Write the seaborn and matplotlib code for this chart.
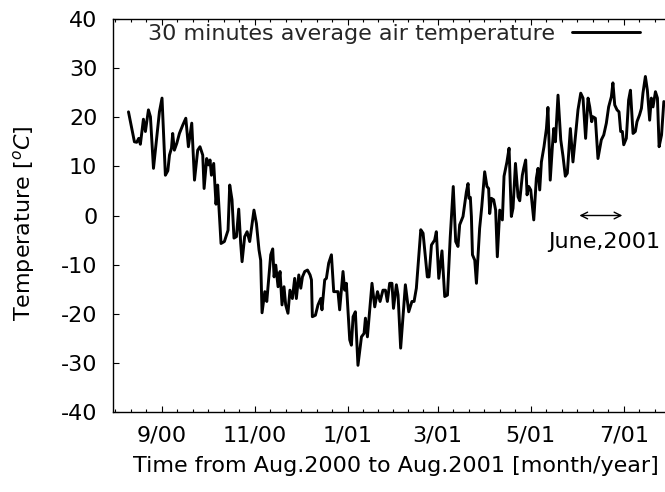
import numpy as np
import pandas as pd
import matplotlib
matplotlib.use("Agg")
import matplotlib.pyplot as plt
import matplotlib.dates as mdates
import seaborn as sns

# ---------------- data ----------------
start_date = "2000-08-01"
day_offsets = [9.2,13.1,14.6,15.9,17.0,19.0,20.3,22.3,23.6,25.6,
27.9,29.5,31.2,33.4,35.0,36.1,37.4,38.2,39.3,40.9,
42.6,44.8,46.8,48.5,50.7,52.5,54.6,56.1,57.9,58.8,
60.5,61.6,62.7,63.6,65.1,66.6,67.7,68.4,69.9,72.1,
74.5,75.6,77.1,78.4,80.0,81.5,82.8,83.7,85.4,87.0,
88.7,91.5,93.1,94.8,95.9,96.8,98.6,99.9,102.5,103.8,
104.7,105.8,107.3,108.6,109.9,111.2,112.3,113.8,115.1,116.7,
118.2,119.3,120.9,122.2,123.3,124.8,126.6,128.3,129.2,129.8,
131.8,133.5,135.3,136.1,137.9,139.0,140.5,142.3,143.8,145.1,
146.6,147.7,149.9,151.0,152.1,154.3,155.4,156.5,158.0,159.7,
162.0,163.7,164.6,165.9,168.9,170.7,172.5,174.2,176.1,177.7,
179.0,180.5,182.0,183.0,184.9,186.0,187.7,190.8,193.0,195.1,
196.5,198.0,200.9,202.4,205.2,206.3,207.9,210.0,211.1,212.7,
214.8,216.6,218.4,220.2,222.2,223.8,225.3,226.4,228.6,230.8,
231.9,232.5,233.4,234.1,234.8,236.3,237.4,239.5,240.9,242.8,
244.3,245.4,246.1,247.2,248.7,250.0,251.1,252.7,254.4,255.5,
257.4,258.8,260.3,261.4,263.0,264.7,265.8,267.5,268.4,269.7,
270.6,271.7,273.0,275.0,276.7,277.8,278.9,280.0,281.7,283.3,
284.3,285.8,287.2,288.1,289.2,290.9,292.7,294.2,295.7,297.0,
299.0,300.7,302.9,304.0,305.8,307.3,309.0,310.6,311.7,313.0,
313.8,315.4,317.1,319.3,320.9,322.6,324.1,325.9,326.9,328.1,
329.6,330.9,332.0,333.1,334.0,335.7,337.2,338.4,340.1,341.6,
342.7,344.4,345.6,346.6,348.2,349.5,351.0,352.1,353.2,354.8,
356.1,357.2,358.8,360.3]
temperatures = [21.1,15.0,14.9,15.7,14.5,19.6,17.1,21.5,20.1,9.6,
16.4,21.1,23.9,8.2,9.1,12.3,13.7,16.7,13.3,14.7,
16.7,18.4,19.8,14.0,18.8,7.2,13.3,14.0,12.3,5.5,
11.6,10.3,11.3,8.2,10.6,2.3,6.2,2.5,-5.7,-5.3,
-3.0,6.2,3.2,-4.6,-4.3,1.3,-5.7,-9.4,-4.3,-3.3,
-5.3,1.1,-1.6,-7.0,-9.1,-19.8,-15.5,-17.5,-8.0,-6.8,
-12.5,-10.1,-14.5,-11.4,-18.2,-14.5,-18.2,-19.9,-15.2,-16.9,
-12.8,-16.9,-12.1,-14.8,-12.5,-11.4,-11.1,-12.1,-13.1,-20.6,
-20.3,-18.2,-16.9,-19.2,-13.1,-12.8,-9.7,-8.0,-15.5,-15.5,
-15.5,-19.2,-11.4,-15.2,-13.8,-25.3,-26.4,-20.6,-19.6,-30.5,
-24.7,-24.0,-20.9,-24.7,-13.8,-18.6,-15.5,-17.5,-15.2,-15.2,
-17.5,-13.8,-13.8,-18.9,-14.1,-16.2,-27.0,-14.1,-19.6,-17.5,
-17.5,-14.8,-2.9,-3.6,-12.5,-12.5,-6.0,-5.0,-3.3,-12.8,
-7.2,-16.5,-16.2,-4.5,5.9,-5.3,-6.3,-1.9,-0.2,4.8,
6.5,3.5,3.7,-0.2,-8.0,-9.1,-13.8,-2.6,1.8,8.9,
5.9,5.5,0.4,3.5,3.2,1.1,-8.4,1.1,-0.9,8.0,
10.9,13.7,-0.2,1.5,10.6,3.8,3.0,8.2,9.6,11.3,
4.2,5.9,5.2,-0.9,7.6,9.6,5.2,10.9,14.0,17.7,
22.0,7.2,14.0,17.7,15.0,24.5,15.4,12.0,8.0,8.6,
17.7,10.9,18.1,21.5,24.9,23.9,15.7,23.9,22.1,19.1,
20.1,19.8,11.6,15.4,16.4,18.8,22.1,24.2,27.0,22.5,
21.5,21.1,17.1,17.1,14.4,15.7,23.5,25.5,16.7,17.1,
19.1,20.5,21.8,24.9,28.3,25.5,19.4,23.9,22.1,25.2,
23.9,14.0,16.4,23.2]

series_label = "30 minutes average air temperature"
major_tick_dates = ["2000-09-01", "2000-11-01", "2001-01-01",
                    "2001-03-01", "2001-05-01", "2001-07-01"]
x_tick_labels = ["9/00", "11/00", "1/01", "3/01", "5/01", "7/01"]
y_ticks = [-40, -30, -20, -10, 0, 10, 20, 30, 40]
x_range = ("2000-07-31 06:00", "2001-08-01")
arrow_start, arrow_end, arrow_level = "2001-06-01", "2001-07-01", 0
note_text, note_date, note_level = "June,2001", "2001-06-18", -5.3
x_label = "Time from Aug.2000 to Aug.2001 [month/year]"
y_label = r"Temperature $[^{o}C]$"

# ---------------- style ----------------
sns.set_theme(style="ticks")
plt.rcParams["font.family"] = ["DejaVu Sans"]
plt.rcParams["mathtext.fontset"] = "dejavusans"
FS = 16

fig = plt.figure(figsize=(6.65, 4.92), dpi=100)
fig.patch.set_facecolor("white")
ax = fig.add_axes([113.3 / 665, 1 - 412 / 492, 557.7 / 665, 393 / 492])
ax.set_facecolor("white")

df = pd.DataFrame({
    "date": pd.Timestamp(start_date) + pd.to_timedelta(day_offsets, unit="D"),
    "temp": temperatures,
})
sns.lineplot(data=df, x="date", y="temp", color="black", linewidth=2.1,
             label=series_label, errorbar=None, ax=ax)

ax.set_xlim(pd.Timestamp(x_range[0]), pd.Timestamp(x_range[1]))
ax.set_ylim(min(y_ticks), max(y_ticks))
ax.set_yticks(y_ticks)
ax.set_yticklabels([str(v) for v in y_ticks])

majors = pd.to_datetime(major_tick_dates)
ax.set_xticks(majors)
ax.set_xticklabels(x_tick_labels)
mnum = mdates.date2num(majors)
minors = []
for a, b in zip(mnum[:-1], mnum[1:]):
    minors += list(np.linspace(a, b, 7)[1:-1])
step0 = (mnum[1] - mnum[0]) / 6
stepn = (mnum[-1] - mnum[-2]) / 6
minors += [mnum[0] - k * step0 for k in range(1, 6)]
minors += [mnum[-1] + k * stepn for k in range(1, 6)]
lo, hi = mdates.date2num(pd.Timestamp(x_range[0])), mdates.date2num(pd.Timestamp(x_range[1]))
minors = [m for m in minors if lo < m < hi]
ax.set_xticks(minors, minor=True)

for s in ax.spines.values():
    s.set_visible(True)
    s.set_color("black")
    s.set_linewidth(1.0)

ax.tick_params(axis="both", which="both", direction="in", top=True, right=True,
               color="black", width=0.8, labelsize=FS, labelcolor="black")
ax.tick_params(axis="both", which="major", length=4.3)
ax.tick_params(axis="x", which="minor", length=2.2)
ax.tick_params(axis="y", which="major", pad=11.5)
ax.tick_params(axis="x", which="major", pad=9.5)

ax.set_xlabel(x_label, fontsize=FS, color="black")
ax.set_ylabel(y_label, fontsize=FS, color="black")
ax.xaxis.set_label_coords(0.507, -0.112)
ax.yaxis.set_label_coords(-0.136, 0.48)

ax.annotate("", xy=(pd.Timestamp(arrow_end), arrow_level),
            xytext=(pd.Timestamp(arrow_start), arrow_level),
            arrowprops=dict(arrowstyle="<->", color="black", lw=1.0,
                            shrinkA=1, shrinkB=1))
ax.text(pd.Timestamp(note_date), note_level, note_text, fontsize=FS,
        ha="center", va="center", color="black")

leg = ax.legend(loc="upper right", bbox_to_anchor=(0.9444, 0.988),
                frameon=False, markerfirst=False, handlelength=3.06,
                handletextpad=0.77, borderpad=0, borderaxespad=0, fontsize=FS)

fig.savefig("out.png", dpi=100)
